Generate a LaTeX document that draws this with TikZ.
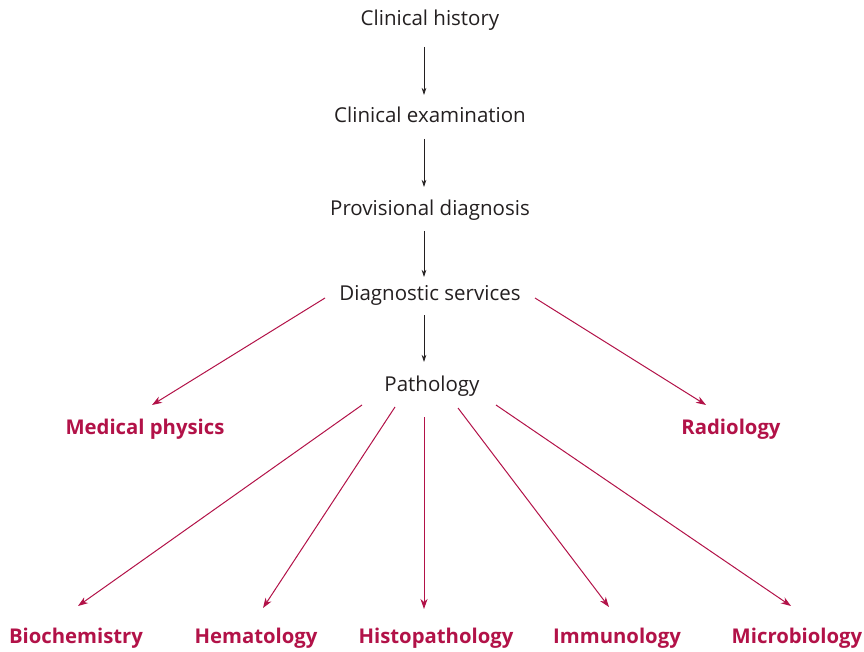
\documentclass[tikz,border=0pt]{standalone}
\usepackage{fontspec}
\setmainfont{Open Sans}
\usetikzlibrary{arrows.meta}
\definecolor{crim}{RGB}{178,18,72}
\definecolor{txt}{RGB}{35,31,32}
\tikzset{
  blk/.style={font=\fontsize{20.5}{22}\selectfont, text=txt, inner sep=0pt, anchor=center},
  red/.style={font=\fontsize{20.3}{22}\selectfont\bfseries, text=crim, inner sep=0pt, anchor=center},
  karrow/.style={draw=txt, line width=0.75pt, -{Stealth[length=7pt,width=4.5pt,inset=2pt]}},
  rarrow/.style={draw=crim, line width=1pt, -{Stealth[length=10pt,width=7pt,inset=3pt]}}
}
\begin{document}
\begin{tikzpicture}[x=1pt,y=-1pt]
\useasboundingbox (0,0) rectangle (864,652);
\node[blk] (hist) at (430,20) {Clinical history};
\node[blk] (exam) at (430,115) {Clinical examination};
\node[blk] (prov) at (430,210) {Provisional diagnosis};
\node[blk] (diag) at (430,295) {Diagnostic services};
\node[blk] (path) at (432,386) {Pathology};
\node[red] (med) at (145,429) {Medical physics};
\node[red] (rad) at (731,429) {Radiology};
\node[red] (bio) at (76,638) {Biochemistry};
\node[red] (hem) at (256,638) {Hematology};
\node[red] (his) at (436,638) {Histopathology};
\node[red] (imm) at (617,638) {Immunology};
\node[red] (mic) at (797,638) {Microbiology};

\coordinate (h1) at (424,47);  \coordinate (h2) at (424,95);
\coordinate (e1) at (424,139); \coordinate (e2) at (424,187);
\coordinate (p1) at (424,231); \coordinate (p2) at (424,277);
\coordinate (d1) at (424,315); \coordinate (d2) at (424,362);
\draw[karrow] (h1) -- (h2);
\draw[karrow] (e1) -- (e2);
\draw[karrow] (p1) -- (p2);
\draw[karrow] (d1) -- (d2);

\coordinate (dl) at (325,298); \coordinate (ml) at (152,405);
\coordinate (dr) at (535,298); \coordinate (rr) at (706,405);
\draw[rarrow] (dl) -- (ml);
\draw[rarrow] (dr) -- (rr);

\coordinate (pa) at (362,405); \coordinate (ba) at (78,606);
\coordinate (pb) at (395,407); \coordinate (hb) at (263,608);
\coordinate (pc) at (424,417); \coordinate (hc) at (424,609);
\coordinate (pd) at (458,408); \coordinate (id) at (609,607);
\coordinate (pe) at (496,405); \coordinate (me) at (791,606);
\draw[rarrow] (pa) -- (ba);
\draw[rarrow] (pb) -- (hb);
\draw[rarrow] (pc) -- (hc);
\draw[rarrow] (pd) -- (id);
\draw[rarrow] (pe) -- (me);
\end{tikzpicture}
\end{document}
